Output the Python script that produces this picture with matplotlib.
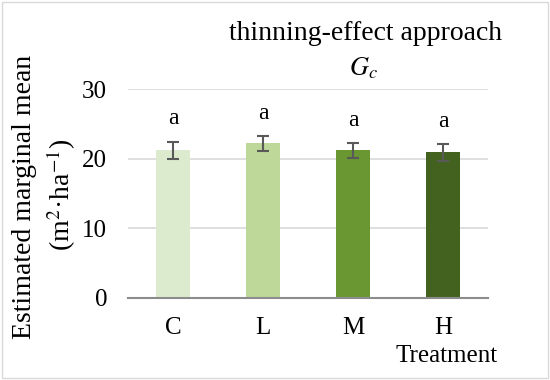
import matplotlib
matplotlib.use("Agg")
from matplotlib import pyplot as plt
from matplotlib.patches import Rectangle

treatments = ["C", "L", "M", "H"]
means = [21.2, 22.2, 21.2, 20.9]
errors = [1.2, 1.05, 1.05, 1.2]
letters = ["a", "a", "a", "a"]
colors = ["#dcebcd", "#bdd899", "#6a9732", "#436220"]

plt.rcParams['font.family'] = ['Liberation Serif', 'DejaVu Serif']
plt.rcParams['mathtext.fontset'] = 'stix'

fig = plt.figure(figsize=(5.5, 3.8), dpi=100)
ax = fig.add_axes([128/550, 1-298/380, 360/550, 209/380])

x = range(len(treatments))
ax.bar(x, means, width=0.38, color=colors, zorder=3)
ax.errorbar(x, means, yerr=errors, fmt='none', ecolor='#595959',
            elinewidth=1.5, capsize=4, capthick=1.5, zorder=4)
for i, (m, e, l) in enumerate(zip(means, errors, letters)):
    ax.text(i, m + e + 3.3, l, ha='center', va='center', fontsize=17)

ax.set_xlim(-0.5, 3.5)
ax.set_ylim(0, 30)
ax.set_yticks([0, 10, 20, 30])
ax.yaxis.grid(True, color='#d9d9d9', linewidth=1.2, zorder=0)
ax.set_axisbelow(True)
for s in ['top', 'right', 'left']:
    ax.spines[s].set_visible(False)
ax.spines['bottom'].set_color('#8c8c8c')
ax.spines['bottom'].set_linewidth(1.5)
ax.spines['bottom'].set_zorder(5)
ax.tick_params(length=0, labelsize=18)
ax.tick_params(axis='y', pad=15)
ax.tick_params(axis='x', pad=14)
ax.set_xticks(list(x))
ax.set_xticklabels(treatments)

fig.text(502/550, 1-33/380, "thinning-effect approach", ha='right', va='center', fontsize=20)
fig.text(363/550, 1-68/380, "$G_c$", ha='center', va='center', fontsize=19)
fig.text(498/550, 1-356/380, "Treatment", ha='right', va='center', fontsize=18)
fig.text(25/550, 1-197/380, "Estimated marginal mean", rotation=90,
         ha='center', va='center', fontsize=20)
fig.text(61/550, 1-195/380, "(m$^{2}$·ha$^{-1}$)", rotation=90,
         ha='center', va='center', fontsize=20)

fig.patches.append(Rectangle((0.004, 0.004), 0.992, 0.99, transform=fig.transFigure,
                             fill=False, edgecolor='#d9d9d9', linewidth=1))

fig.savefig("out.png", dpi=100)
